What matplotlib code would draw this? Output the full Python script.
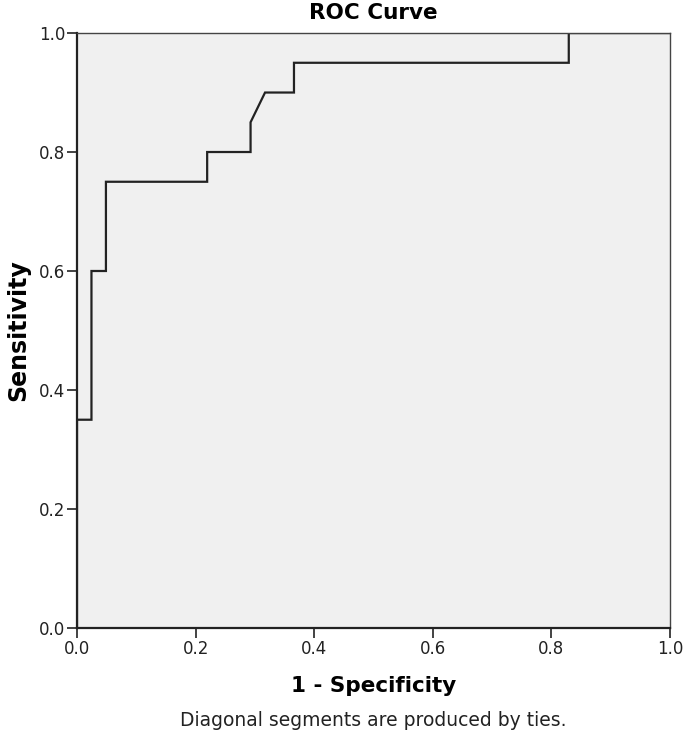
import matplotlib
matplotlib.use("Agg")
import matplotlib.pyplot as plt

# ROC curve vertices (1 - specificity, sensitivity)
fpr = [0.0, 0.0, 0.0244, 0.0244, 0.0488, 0.0488, 0.2195, 0.2195, 0.2927, 0.2927,
       0.3171, 0.3659, 0.3659, 0.8293, 0.8293, 1.0]
tpr = [0.0, 0.35, 0.35, 0.60, 0.60, 0.75, 0.75, 0.80, 0.80, 0.85,
       0.90, 0.90, 0.95, 0.95, 1.0, 1.0]
ticks = [0.0, 0.2, 0.4, 0.6, 0.8, 1.0]
tick_labels = ["0.0", "0.2", "0.4", "0.6", "0.8", "1.0"]

plt.rcParams['font.family'] = ['DejaVu Sans']
fig = plt.figure(figsize=(6.85, 7.44), dpi=100)
ax_left, ax_bottom, ax_w, ax_h = 0.1124, 0.156, 0.8657, 0.7996
ax = fig.add_axes([ax_left, ax_bottom, ax_w, ax_h])
ax.set_facecolor('#f0f0f0')
ax.plot(fpr, tpr, color='#222222', lw=1.6, solid_joinstyle='miter')
ax.set_xlim(0, 1)
ax.set_ylim(0, 1)
ax.set_xticks(ticks)
ax.set_xticklabels(tick_labels)
ax.set_yticks(ticks)
ax.set_yticklabels(tick_labels)
ax.tick_params(direction='out', length=7, width=1.2, pad=1.5, labelsize=12, colors='#222222')
for s in ['left', 'bottom']:
    ax.spines[s].set_linewidth(1.6)
    ax.spines[s].set_color('#222222')
for s in ['top', 'right']:
    ax.spines[s].set_linewidth(1.0)
    ax.spines[s].set_color('#444444')
xc = ax_left + ax_w / 2
fig.text(xc, 0.983, 'ROC Curve', ha='center', va='center', fontsize=15.5, fontweight='bold')
ax.set_xlabel('1 - Specificity', fontsize=15.5, fontweight='bold', labelpad=13)
ax.set_ylabel('Sensitivity', fontsize=17, fontweight='bold', labelpad=6)
fig.text(xc, 0.032, 'Diagonal segments are produced by ties.', ha='center', va='center',
         fontsize=13.5, color='#222222')
fig.savefig('out.png', dpi=100)
